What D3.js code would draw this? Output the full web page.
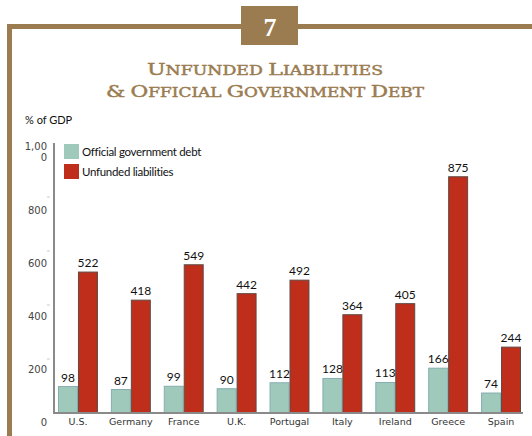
<!DOCTYPE html>
<html>
<head>
<meta charset="utf-8">
<script src="https://cdn.jsdelivr.net/npm/d3@7"></script>
<style>
  body { margin: 0; background: #fff; }
  svg { display: block; }
</style>
</head>
<body>
<div id="chart"></div>
<script>
const svgWidth = 532;
const svgHeight = 436;

// data
const countries = ["U.S.", "Germany", "France", "U.K.", "Portugal", "Italy", "Ireland", "Greece", "Spain"];
const officialDebt = [98, 87, 99, 90, 112, 128, 113, 166, 74];
const unfundedLiabilities = [522, 418, 549, 442, 492, 364, 405, 875, 244];
const seriesNames = ["Official government debt", "Unfunded liabilities"];
const yTicks = [0, 200, 400, 600, 800, 1000];

const gold = "#9b7c51";
const teal = "#9fc9bb";
const red = "#be2e1b";

const svg = d3.select("#chart")
  .append("svg")
  .attr("width", svgWidth)
  .attr("height", svgHeight);

// frame
svg.append("rect")
  .attr("x", 7).attr("y", 24)
  .attr("width", svgWidth - 7).attr("height", 5)
  .attr("fill", gold);
svg.append("rect")
  .attr("x", 7).attr("y", 24)
  .attr("width", 5).attr("height", svgHeight - 24)
  .attr("fill", gold);

// number box
svg.append("rect")
  .attr("x", 241).attr("y", 6)
  .attr("width", 57).attr("height", 39)
  .attr("fill", gold);
svg.append("text")
  .attr("x", 270).attr("y", 36)
  .attr("text-anchor", "middle")
  .attr("font-family", "Liberation Serif, serif")
  .attr("font-weight", "bold")
  .attr("font-size", 26)
  .attr("fill", "#fff")
  .text("7");

// title, drawn as small caps by hand
const titleLines = [
  { text: "Unfunded Liabilities", y: 75, len: 236 },
  { text: "& Official Government Debt", y: 97, len: 318 }
];
const titles = svg.selectAll(".title")
  .data(titleLines)
  .enter()
  .append("text")
  .attr("class", "title")
  .attr("x", 265)
  .attr("y", d => d.y)
  .attr("text-anchor", "middle")
  .attr("font-family", "DejaVu Serif, serif")
  .attr("fill", gold)
  .attr("stroke", gold)
  .attr("stroke-width", 0.45)
  .attr("textLength", d => d.len)
  .attr("lengthAdjust", "spacingAndGlyphs");

titles.each(function(d) {
  const t = d3.select(this);
  const chars = d.text.split("");
  chars.forEach(ch => {
    const big = ch !== ch.toLowerCase() || ch === "&";
    t.append("tspan")
      .attr("font-size", big ? 16 : 12.5)
      .text(ch.toUpperCase());
  });
});

// % of GDP label
svg.append("text")
  .attr("x", 25).attr("y", 124)
  .attr("font-family", "Lato, sans-serif")
  .attr("font-size", 11)
  .attr("fill", "#111")
  .text("% of GDP");

// scales
const baseline = 413;
const y = d3.scaleLinear()
  .domain([0, 1000])
  .range([baseline, 143]);

// tick labels sit a bit lower than the ticks in the original
const yLabel = d3.scaleLinear()
  .domain([0, 800])
  .range([422, 210]);

const x0 = d3.scaleBand()
  .domain(countries)
  .range([58, 521])
  .paddingInner(0.245)
  .paddingOuter(0);

const x1 = d3.scaleBand()
  .domain(seriesNames)
  .range([0, x0.bandwidth()])
  .padding(0);

// small tick marks
svg.selectAll(".ytick")
  .data(yTicks.filter(d => d > 0 && d < 1000))
  .enter()
  .append("line")
  .attr("class", "ytick")
  .attr("x1", 47).attr("x2", 50)
  .attr("y1", d => y(d)).attr("y2", d => y(d))
  .attr("stroke", "#ccc")
  .attr("stroke-width", 1);

// tick labels
const labelGroup = svg.append("g")
  .attr("font-family", "DejaVu Sans, sans-serif")
  .attr("font-size", 10)
  .attr("fill", "#444")
  .attr("text-anchor", "end");

labelGroup.selectAll("text")
  .data(yTicks.filter(d => d < 1000))
  .enter()
  .append("text")
  .attr("x", 47)
  .attr("y", d => yLabel(d))
  .attr("dy", "0.35em")
  .text(d => d3.format(",")(d));

// 1,000 wraps onto two lines
const topLabel = labelGroup.append("text")
  .attr("x", 47)
  .attr("y", yLabel(1000) - 11)
  .attr("dy", "0.35em");
topLabel.append("tspan").attr("x", 47).text(d3.format(",")(1000).slice(0, 4));
topLabel.append("tspan").attr("x", 47).attr("dy", 11).text(d3.format(",")(1000).slice(4));

// bars
const rows = countries.map((c, i) => ({
  country: c,
  values: [
    { key: seriesNames[0], value: officialDebt[i], fill: teal, stroke: "#86aeb0" },
    { key: seriesNames[1], value: unfundedLiabilities[i], fill: red, stroke: "#5e4a45" }
  ]
}));

const groups = svg.selectAll(".group")
  .data(rows)
  .enter()
  .append("g")
  .attr("class", "group")
  .attr("transform", d => `translate(${x0(d.country)},0)`);

groups.selectAll("rect")
  .data(d => d.values)
  .enter()
  .append("rect")
  .attr("x", d => x1(d.key) + 0.5)
  .attr("y", d => y(d.value))
  .attr("width", x1.bandwidth() - 1)
  .attr("height", d => baseline - y(d.value))
  .attr("fill", d => d.fill)
  .attr("stroke", d => d.stroke)
  .attr("stroke-width", 1);

groups.selectAll(".val")
  .data(d => d.values)
  .enter()
  .append("text")
  .attr("class", "val")
  .attr("x", d => x1(d.key) + x1.bandwidth() / 2)
  .attr("y", d => y(d.value) - 5)
  .attr("text-anchor", "middle")
  .attr("font-family", "Lato, sans-serif")
  .attr("font-size", 12)
  .attr("fill", "#111")
  .text(d => d.value);

// axes lines
svg.append("line")
  .attr("x1", 54).attr("x2", 54)
  .attr("y1", 143).attr("y2", baseline + 1)
  .attr("stroke", "#8a8a8a")
  .attr("stroke-width", 2);
svg.append("line")
  .attr("x1", 53).attr("x2", 523)
  .attr("y1", baseline).attr("y2", baseline)
  .attr("stroke", "#8a8a8a")
  .attr("stroke-width", 2);

// category labels
svg.selectAll(".cat")
  .data(countries)
  .enter()
  .append("text")
  .attr("class", "cat")
  .attr("x", d => x0(d) + x0.bandwidth() / 2)
  .attr("y", 422)
  .attr("dy", "0.35em")
  .attr("text-anchor", "middle")
  .attr("font-family", "DejaVu Sans, sans-serif")
  .attr("font-size", 9.5)
  .attr("fill", "#333")
  .text(d => d);

// legend
const legend = svg.selectAll(".legend")
  .data([
    { name: seriesNames[0], fill: teal, y: 144 },
    { name: seriesNames[1], fill: red, y: 164 }
  ])
  .enter()
  .append("g")
  .attr("class", "legend");

legend.append("rect")
  .attr("x", 64).attr("y", d => d.y)
  .attr("width", 15).attr("height", 15)
  .attr("fill", d => d.fill);

legend.append("text")
  .attr("x", 82)
  .attr("y", d => d.y + 8)
  .attr("dy", "0.35em")
  .attr("font-family", "Lato, sans-serif")
  .attr("font-size", 11.5)
  .attr("fill", "#111")
  .attr("letter-spacing", -0.3)
  .text(d => d.name);
</script>
</body>
</html>
